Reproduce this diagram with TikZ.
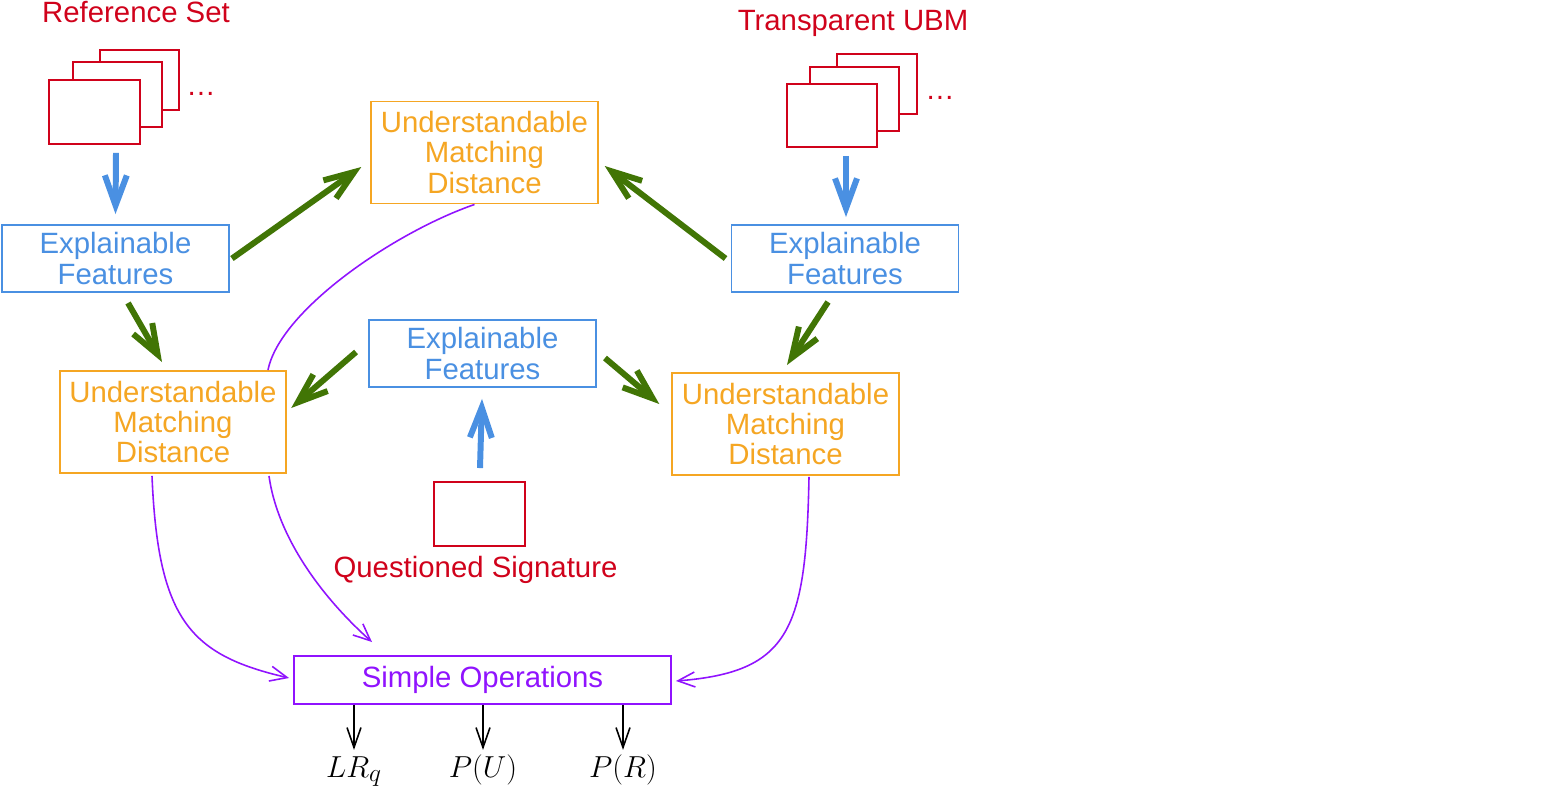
\documentclass[tikz,border=0pt]{standalone}
\usepackage{fontspec}
\setmainfont{Liberation Sans}
\usetikzlibrary{arrows.meta, calc}
\definecolor{sigred}{HTML}{D0021B}
\definecolor{featblue}{HTML}{4A90E2}
\definecolor{distorange}{HTML}{F5A623}
\definecolor{flowgreen}{HTML}{417505}
\definecolor{opviolet}{HTML}{9013FE}

\begin{document}
\begin{tikzpicture}[x=0.2mm, y=-0.2mm,
  font=\fontsize{16.7}{17.2}\selectfont,
  featbox/.style={draw=featblue, text=featblue, line width=1.1pt, fill=white,
    align=center, inner sep=0pt, minimum width=45.4mm, minimum height=13.4mm},
  distbox/.style={draw=distorange, text=distorange, line width=1.1pt, fill=white,
    align=center, inner sep=0pt, minimum width=45.3mm, minimum height=20.4mm},
  opsbox/.style={draw=opviolet, text=opviolet, line width=1.1pt, fill=white,
    inner sep=0pt, minimum width=75.4mm, minimum height=9.6mm},
  sheet/.style={draw=sigred, line width=1.1pt, fill=white, inner sep=0pt},
  redlabel/.style={text=sigred, anchor=base},
  outlabel/.style={anchor=base, inner sep=0pt, font=\fontsize{19}{22}\selectfont},
  fatarrow/.style={line width=3.4pt, -{Straight Barb[length=6mm, width=4.4mm]}},
  bluearrow/.style={fatarrow, featblue},
  greenarrow/.style={fatarrow, flowgreen},
  opline/.style={opviolet, line width=0.9pt},
  oparrow/.style={opline, -{Straight Barb[length=3.4mm, width=3mm]}},
  outarrow/.style={line width=0.9pt, -{Straight Barb[length=4mm, width=2.8mm]}},
]

% Frame (1 unit = 1 px of the 1555 x 793 layout, y runs downwards)
\useasboundingbox (0,0) rectangle (1555,793);

% Reference set: stacked sheets
\node[sheet, minimum width=15.8mm, minimum height=12mm] (refBack) at (139.5,80) {};
\node[sheet, minimum width=17.8mm, minimum height=13mm] (refMid) at (117.5,94.5) {};
\node[sheet, minimum width=18.2mm, minimum height=12.8mm] (refFront) at (94.5,112) {};
\node[redlabel] (refDots) at (201,95) {\dots};
\node[redlabel] (refTitle) at (136,22) {Reference Set};

% Transparent UBM: stacked sheets
\node[sheet, minimum width=16mm, minimum height=12mm] (ubmBack) at (877,84) {};
\node[sheet, minimum width=17.8mm, minimum height=12.8mm] (ubmMid) at (854.5,99) {};
\node[sheet, minimum width=18mm, minimum height=12.6mm] (ubmFront) at (832,115.5) {};
\node[redlabel] (ubmDots) at (940,99) {\dots};
\node[redlabel] (ubmTitle) at (853,30) {Transparent UBM};

% Questioned signature
\node[sheet, minimum width=18.2mm, minimum height=12.8mm] (qsig) at (479.5,514) {};
\node[redlabel] (qsigTitle) at (475.5,577) {Questioned Signature};

% Feature and distance boxes
\node[featbox] (efL) at (115.5,258.5) {Explainable\\Features};
\node[featbox] (efR) at (845,258.5) {Explainable\\Features};
\node[featbox] (efM) at (482.5,353.5) {Explainable\\Features};
\node[distbox] (umdT) at (484.5,152.5) {Understandable\\Matching\\Distance};
\node[distbox] (umdL) at (173,422) {Understandable\\Matching\\Distance};
\node[distbox] (umdR) at (785.5,424) {Understandable\\Matching\\Distance};

% Simple operations and outputs
\node[opsbox] (ops) at (482.5,680) {Simple Operations};
\node[outlabel] (lrq) at (354,777) {$LR_q$};
\node[outlabel] (pu) at (483,777) {$P(U)$};
\node[outlabel] (pr) at (623,777) {$P(R)$};

% Blue arrows: signatures -> features
\draw[bluearrow] ($(refFront.south)+(21.5,8)$) -- ($(efL.north)+(0,-10)$);
\draw[bluearrow] ($(ubmFront.south)+(14,8)$) -- ($(efR.north)+(1,-7)$);
\draw[bluearrow] ($(qsig.north)+(0.5,-13)$) -- ($(efM.south)+(-0.5,11)$);

% Green arrows: features -> distances
\draw[greenarrow] ($(efL.south)+(12.5,10)$) -- ($(umdL.north)+(-11,-8)$);
\draw[greenarrow] ($(efL.east)+(2,0)$) -- ($(umdT.west)+(-9,14.5)$);
\draw[greenarrow] ($(efR.west)+(-5,0)$) -- ($(umdT.east)+(6,13.5)$);
\draw[greenarrow] ($(efR.south)+(-17,9)$) -- ($(umdR.north)+(1.5,-7)$);
\draw[greenarrow] ($(efM.west)+(-12,-1.5)$) -- ($(umdL.east)+(4,-14)$);
\draw[greenarrow] ($(efM.east)+(8,4.5)$) -- ($(umdR.west)+(-12,-20)$);

% Violet curves: distances -> simple operations
\draw[opline] ($(umdT.south)+(-10,0)$) .. controls (395,232) and (280,310) .. ($(umdL.north)+(95,0)$);
\draw[oparrow] ($(umdL.south)+(96,2)$) .. controls (278,540) and (325,600) .. ($(ops.north)+(-110.5,-13)$);
\draw[oparrow] ($(umdL.south)+(-21,2)$) .. controls (158,620) and (190,655) .. ($(ops.west)+(-4,-2)$);
\draw[oparrow] ($(umdR.south)+(23.5,1)$) .. controls (806,630) and (790,672) .. ($(ops.east)+(4,1)$);

% Outputs
\draw[outarrow] (ops.south -| lrq.north) -- ($(lrq.north)+(0,-6)$);
\draw[outarrow] (ops.south -| pu.north) -- ($(pu.north)+(0,-4)$);
\draw[outarrow] (ops.south -| pr.north) -- ($(pr.north)+(0,-4)$);

\end{tikzpicture}
\end{document}
